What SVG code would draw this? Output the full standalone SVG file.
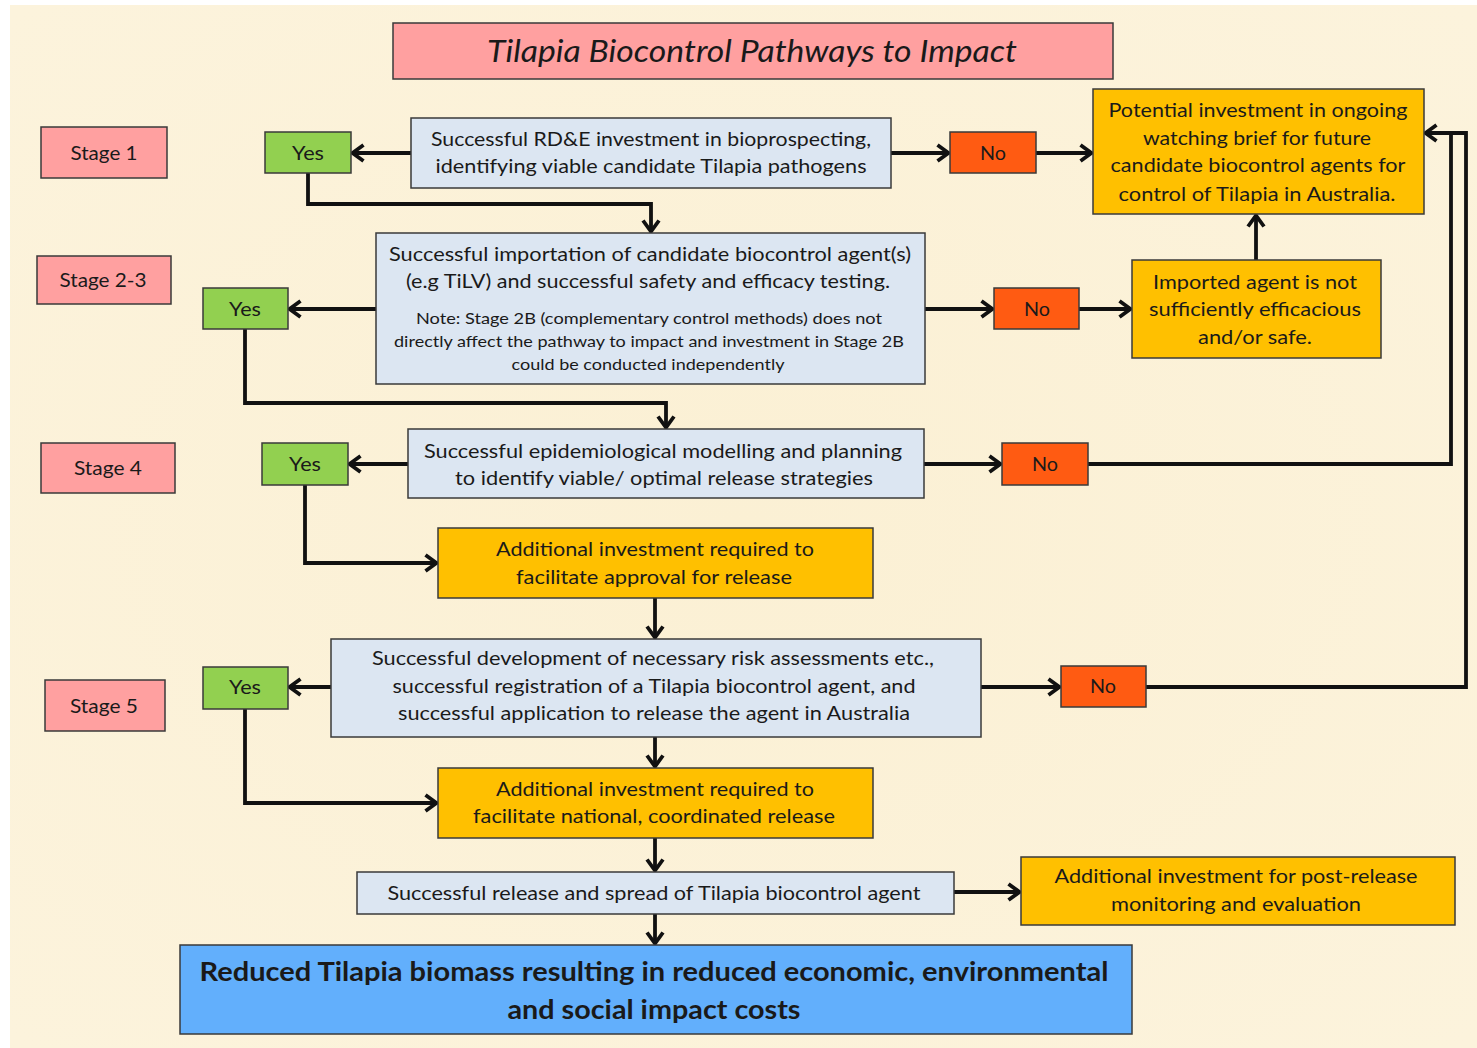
<svg xmlns="http://www.w3.org/2000/svg" width="1477" height="1048" viewBox="0 0 1477 1048">
<defs>
<style>
text{font-family:Lato,"Open Sans","Liberation Sans",sans-serif;fill:#1a1a1a;text-anchor:middle}
.t{font-size:20px}
.s{font-size:15px}
.ttl{font-size:30px;font-style:italic}
.big{font-size:26px;font-weight:bold}
.box{stroke:#3a3a3a;stroke-width:1.5}
.pink{fill:#FFA0A0}
.green{fill:#92D050}
.blue{fill:#DCE6F2}
.orange{fill:#FFC000}
.red{fill:#FF5B12}
.final{fill:#62AFFC}
#connectors path{fill:none;stroke:#111;stroke-width:3.8}
</style>
<marker id="arr" viewBox="0 0 16 20" markerWidth="16" markerHeight="20" refX="14" refY="10" orient="auto" markerUnits="userSpaceOnUse">
<path d="M2.5,2 L13.5,10 L2.5,18" fill="none" stroke="#111" stroke-width="3.8"/>
</marker>
<radialGradient id="bg" cx="50%" cy="50%" r="70%">
<stop offset="0" stop-color="#FBF0D4"/>
<stop offset="1" stop-color="#FCF3DC"/>
</radialGradient>
</defs>
<rect x="0" y="0" width="1477" height="1048" fill="#FFFFFF"/>
<rect x="10" y="5" width="1467" height="1043" fill="url(#bg)"/>

<g id="connectors">
<path d="M411,153 H352" marker-end="url(#arr)"/>
<path d="M308,173 V204 H651 V232" marker-end="url(#arr)"/>
<path d="M891,153 H949" marker-end="url(#arr)"/>
<path d="M1036,153 H1092" marker-end="url(#arr)"/>
<path d="M376,309 H289" marker-end="url(#arr)"/>
<path d="M245,329 V403 H666 V428" marker-end="url(#arr)"/>
<path d="M925,309 H993" marker-end="url(#arr)"/>
<path d="M1079,309 H1131" marker-end="url(#arr)"/>
<path d="M1256,260 V215" marker-end="url(#arr)"/>
<path d="M408,464 H349" marker-end="url(#arr)"/>
<path d="M305,485 V563 H437" marker-end="url(#arr)"/>
<path d="M924,464 H1001" marker-end="url(#arr)"/>
<path d="M1088,464 H1451 V133 H1425" marker-end="url(#arr)"/>
<path d="M1146,687 H1466 V133 H1440"/>
<path d="M655,598 V638" marker-end="url(#arr)"/>
<path d="M331,687 H289" marker-end="url(#arr)"/>
<path d="M245,709 V803 H437" marker-end="url(#arr)"/>
<path d="M981,687 H1060" marker-end="url(#arr)"/>
<path d="M655,737 V767" marker-end="url(#arr)"/>
<path d="M655,838 V871" marker-end="url(#arr)"/>
<path d="M954,892 H1020" marker-end="url(#arr)"/>
<path d="M655,914 V944" marker-end="url(#arr)"/>
</g>

<g id="title">
<rect class="box pink" x="393" y="23" width="720" height="56"/>
<text class="ttl" x="752" y="62" textLength="530" lengthAdjust="spacingAndGlyphs">Tilapia Biocontrol Pathways to Impact</text>
</g>

<g id="stage1">
<rect class="box pink" x="41" y="127" width="126" height="51"/>
<text class="t" x="104" y="160" textLength="67" lengthAdjust="spacingAndGlyphs">Stage 1</text>
</g>
<g id="stage23">
<rect class="box pink" x="37" y="256" width="134" height="48"/>
<text class="t" x="103" y="287" textLength="87" lengthAdjust="spacingAndGlyphs">Stage 2-3</text>
</g>
<g id="stage4">
<rect class="box pink" x="41" y="443" width="134" height="50"/>
<text class="t" x="108" y="475" textLength="68" lengthAdjust="spacingAndGlyphs">Stage 4</text>
</g>
<g id="stage5">
<rect class="box pink" x="45" y="680" width="120" height="51"/>
<text class="t" x="104" y="713" textLength="68" lengthAdjust="spacingAndGlyphs">Stage 5</text>
</g>

<g id="yes1">
<rect class="box green" x="265" y="132" width="86" height="41"/>
<text class="t" x="308" y="160" textLength="32" lengthAdjust="spacingAndGlyphs">Yes</text>
</g>
<g id="yes2">
<rect class="box green" x="203" y="288" width="85" height="41"/>
<text class="t" x="245" y="316" textLength="32" lengthAdjust="spacingAndGlyphs">Yes</text>
</g>
<g id="yes3">
<rect class="box green" x="262" y="443" width="86" height="42"/>
<text class="t" x="305" y="471" textLength="32" lengthAdjust="spacingAndGlyphs">Yes</text>
</g>
<g id="yes4">
<rect class="box green" x="203" y="667" width="85" height="42"/>
<text class="t" x="245" y="694" textLength="32" lengthAdjust="spacingAndGlyphs">Yes</text>
</g>

<g id="no1">
<rect class="box red" x="950" y="132" width="86" height="41"/>
<text class="t" x="993" y="160" textLength="26" lengthAdjust="spacingAndGlyphs">No</text>
</g>
<g id="no2">
<rect class="box red" x="994" y="288" width="85" height="41"/>
<text class="t" x="1037" y="316" textLength="26" lengthAdjust="spacingAndGlyphs">No</text>
</g>
<g id="no3">
<rect class="box red" x="1002" y="443" width="86" height="42"/>
<text class="t" x="1045" y="471" textLength="26" lengthAdjust="spacingAndGlyphs">No</text>
</g>
<g id="no4">
<rect class="box red" x="1061" y="666" width="85" height="41"/>
<text class="t" x="1103" y="693" textLength="26" lengthAdjust="spacingAndGlyphs">No</text>
</g>

<g id="rde">
<rect class="box blue" x="411" y="118" width="480" height="70"/>
<text class="t" x="651" y="146" textLength="440" lengthAdjust="spacingAndGlyphs">Successful RD&amp;E investment in bioprospecting,</text>
<text class="t" x="651" y="173" textLength="431" lengthAdjust="spacingAndGlyphs">identifying viable candidate Tilapia pathogens</text>
</g>
<g id="importation">
<rect class="box blue" x="376" y="233" width="549" height="151"/>
<text class="t" x="650" y="261" textLength="522" lengthAdjust="spacingAndGlyphs">Successful importation of candidate biocontrol agent(s)</text>
<text class="t" x="648" y="288" textLength="484" lengthAdjust="spacingAndGlyphs">(e.g TiLV) and successful safety and efficacy testing.</text>
<text class="s" x="649" y="324" textLength="466" lengthAdjust="spacingAndGlyphs">Note: Stage 2B (complementary control methods) does not</text>
<text class="s" x="649" y="347" textLength="510" lengthAdjust="spacingAndGlyphs">directly affect the pathway to impact and investment in Stage 2B</text>
<text class="s" x="648" y="370" textLength="273" lengthAdjust="spacingAndGlyphs">could be conducted independently</text>
</g>
<g id="modelling">
<rect class="box blue" x="408" y="429" width="516" height="69"/>
<text class="t" x="663" y="458" textLength="478" lengthAdjust="spacingAndGlyphs">Successful epidemiological modelling and planning</text>
<text class="t" x="664" y="485" textLength="418" lengthAdjust="spacingAndGlyphs">to identify viable/ optimal release strategies</text>
</g>
<g id="approval">
<rect class="box orange" x="438" y="528" width="435" height="70"/>
<text class="t" x="655" y="556" textLength="318" lengthAdjust="spacingAndGlyphs">Additional investment required to</text>
<text class="t" x="654" y="584" textLength="276" lengthAdjust="spacingAndGlyphs">facilitate approval for release</text>
</g>
<g id="registration">
<rect class="box blue" x="331" y="639" width="650" height="98"/>
<text class="t" x="653" y="665" textLength="562" lengthAdjust="spacingAndGlyphs">Successful development of necessary risk assessments etc.,</text>
<text class="t" x="654" y="693" textLength="523" lengthAdjust="spacingAndGlyphs">successful registration of a Tilapia biocontrol agent, and</text>
<text class="t" x="654" y="720" textLength="512" lengthAdjust="spacingAndGlyphs">successful application to release the agent in Australia</text>
</g>
<g id="national">
<rect class="box orange" x="438" y="768" width="435" height="70"/>
<text class="t" x="655" y="796" textLength="318" lengthAdjust="spacingAndGlyphs">Additional investment required to</text>
<text class="t" x="654" y="823" textLength="362" lengthAdjust="spacingAndGlyphs">facilitate national, coordinated release</text>
</g>
<g id="spread">
<rect class="box blue" x="357" y="872" width="597" height="42"/>
<text class="t" x="654" y="900" textLength="533" lengthAdjust="spacingAndGlyphs">Successful release and spread of Tilapia biocontrol agent</text>
</g>
<g id="postrelease">
<rect class="box orange" x="1021" y="857" width="434" height="68"/>
<text class="t" x="1236" y="883" textLength="363" lengthAdjust="spacingAndGlyphs">Additional investment for post-release</text>
<text class="t" x="1236" y="911" textLength="250" lengthAdjust="spacingAndGlyphs">monitoring and evaluation</text>
</g>
<g id="watching">
<rect class="box orange" x="1093" y="89" width="331" height="125"/>
<text class="t" x="1258" y="117" textLength="299" lengthAdjust="spacingAndGlyphs">Potential investment in ongoing</text>
<text class="t" x="1257" y="145" textLength="228" lengthAdjust="spacingAndGlyphs">watching brief for future</text>
<text class="t" x="1258" y="172" textLength="295" lengthAdjust="spacingAndGlyphs">candidate biocontrol agents for</text>
<text class="t" x="1257" y="201" textLength="277" lengthAdjust="spacingAndGlyphs">control of Tilapia in Australia.</text>
</g>
<g id="imported">
<rect class="box orange" x="1132" y="260" width="249" height="98"/>
<text class="t" x="1255" y="289" textLength="204" lengthAdjust="spacingAndGlyphs">Imported agent is not</text>
<text class="t" x="1255" y="316" textLength="212" lengthAdjust="spacingAndGlyphs">sufficiently efficacious</text>
<text class="t" x="1255" y="344" textLength="114" lengthAdjust="spacingAndGlyphs">and/or safe.</text>
</g>
<g id="outcome">
<rect class="box final" x="180" y="945" width="952" height="89"/>
<text class="big" x="654" y="981" textLength="909" lengthAdjust="spacingAndGlyphs">Reduced Tilapia biomass resulting in reduced economic, environmental</text>
<text class="big" x="654" y="1019" textLength="293" lengthAdjust="spacingAndGlyphs">and social impact costs</text>
</g>
</svg>
